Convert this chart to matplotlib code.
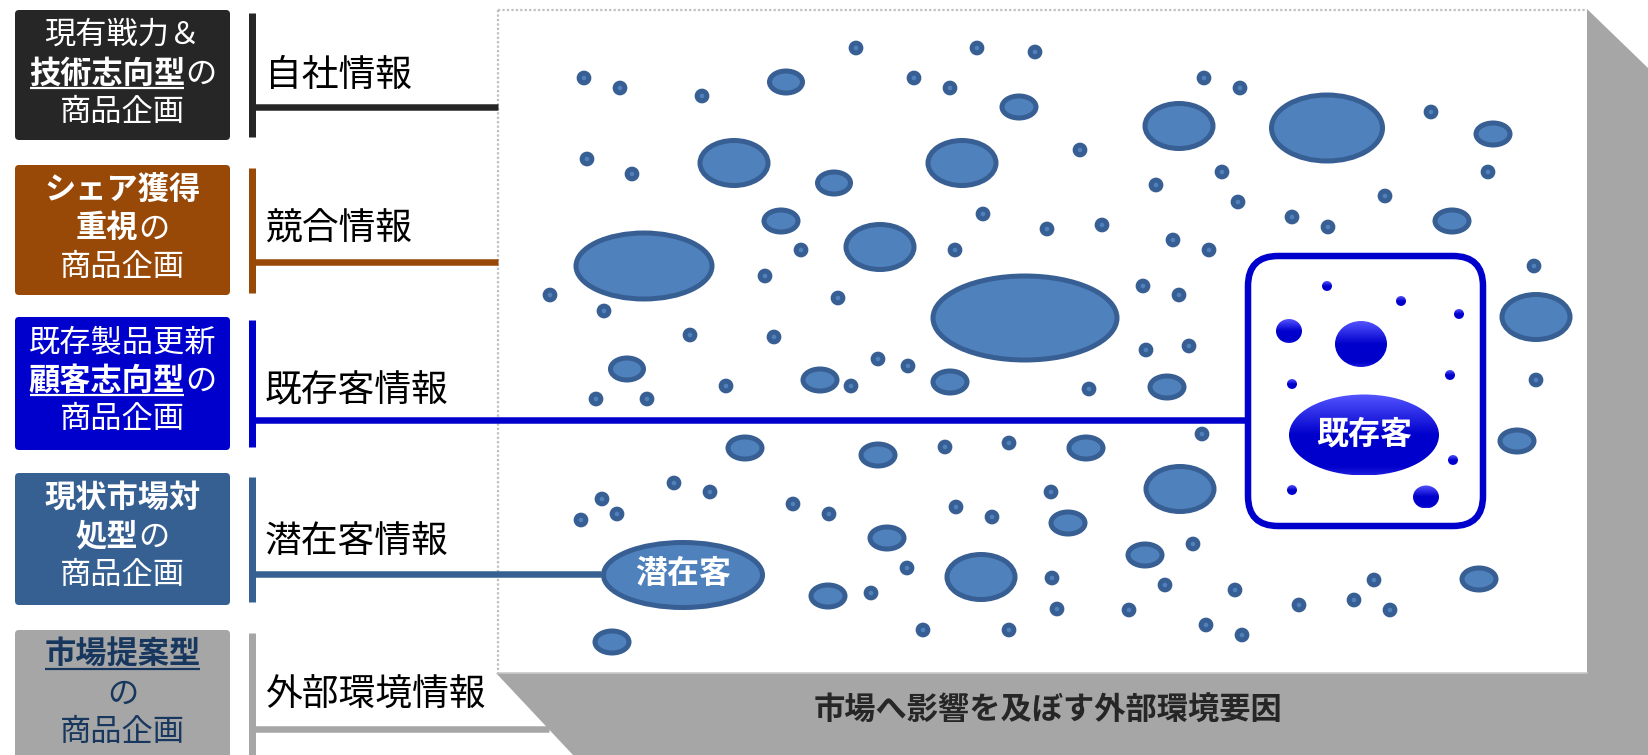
import matplotlib
matplotlib.use('Agg')
import matplotlib.pyplot as plt
from matplotlib.patches import Ellipse, FancyBboxPatch, Polygon
import numpy as np

plt.rcParams['font.family'] = ['Noto Sans CJK JP', 'DejaVu Sans']

# ---------------- data ----------------
box_colors = ['#262626', '#984807', '#0000CC', '#376092', '#A6A6A6']
box_text_colors = ['white', 'white', 'white', 'white', '#17375E']
box_top = [10, 165, 317, 473, 630]
box_bottom = [140, 295, 450, 605, 765]
box_lines = [
    [[('現有戦力＆', False, False)], [('技術志向型', True, True), ('の', False, False)], [('商品企画', False, False)]],
    [[('シェア獲得', True, False)], [('重視', True, False), ('の', False, False)], [('商品企画', False, False)]],
    [[('既存製品更新', False, False)], [('顧客志向型', True, True), ('の', False, False)], [('商品企画', False, False)]],
    [[('現状市場対', True, False)], [('処型', True, False), ('の', False, False)], [('商品企画', False, False)]],
    [[('市場提案型', True, True)], [('の', False, False)], [('商品企画', False, False)]],
]
line_offsets = [25, 63.5, 102]

info_labels = ['自社情報', '競合情報', '既存客情報', '潜在客情報', '外部環境情報']
info_label_y = [75, 229, 391, 541, 695]
bracket_y0 = [13, 168, 320, 477, 633]
bracket_y1 = [137, 293, 447, 602, 760]
link_y = [106.5, 262, 420, 574, 729]
link_x_end = [498, 498, 1245, 601, 549]

# small market dots (centres)
dot_x = [856, 977, 1035, 584, 620, 702, 914, 950, 1204, 1240, 1431, 587, 632, 1080,
         1222, 1156, 1488, 1238, 1385, 1292, 1328, 983, 1047, 1102, 801, 955, 1173,
         1209, 1534, 765, 550, 604, 838, 1143, 1179, 690, 774, 878, 908, 1146, 1189,
         1536, 596, 647, 726, 851, 1089, 945, 1009, 1202, 674, 710, 602, 617, 581,
         793, 829, 1051, 956, 992, 1193, 907, 1052, 1165, 871, 1057, 1129, 1206,
         923, 1009, 1235, 1299, 1354, 1374, 1390, 1242]
dot_y = [48, 48, 52, 78, 88, 96, 78, 88, 78, 88, 112, 159, 174, 150,
         172, 185, 172, 202, 196, 217, 227, 214, 229, 225, 250, 250, 240,
         250, 266, 276, 295, 311, 298, 286, 295, 335, 337, 359, 366, 350, 346,
         380, 399, 399, 386, 386, 389, 447, 443, 434, 483, 492, 499, 514, 520,
         504, 514, 492, 507, 517, 544, 568, 578, 585, 593, 609, 610, 625,
         630, 630, 590, 605, 600, 580, 610, 635]

# market ellipses: centre and outer size
ell_x = [786, 734, 834, 781, 644, 880, 1019, 962, 1179, 1025, 1327, 1493, 1452, 1536,
         627, 820, 745, 828, 612, 878, 950, 1167, 1086, 1180, 1068, 887, 1145, 981,
         1517, 1479]
ell_y = [82, 163, 183, 221, 266, 247, 107, 163, 126, 318, 128, 134, 221, 317,
         369, 380, 448, 596, 642, 455, 382, 387, 448, 489, 523, 538, 555, 577,
         441, 579]
ell_w = [38, 73, 38, 39, 141, 73, 39, 73, 73, 189, 116, 39, 39, 73,
         38, 39, 39, 39, 39, 39, 39, 39, 39, 73, 39, 39, 39, 73,
         39, 39]
ell_h = [27, 50, 27, 27, 71, 50, 27, 50, 50, 89, 71, 27, 27, 50,
         27, 27, 27, 27, 27, 27, 27, 27, 27, 50, 27, 27, 27, 50,
         27, 27]

# existing-customer spheres inside the box
sph_x = [1327, 1401, 1459, 1292, 1450, 1453, 1292, 1289, 1361, 1426]
sph_y = [286, 301, 314, 384, 375, 460, 490, 331, 344, 497]
sph_w = [10, 10, 10, 10, 10, 10, 10, 26, 52, 26]
sph_h = [10, 10, 10, 10, 10, 10, 10, 24, 46, 23]

customer_box = (1248, 256, 1483, 526)
existing_ell = (1364, 435, 150, 81, '既存客')
latent_ell = (683, 575, 164, 70, '潜在客')
bottom_title = '市場へ影響を及ぼす外部環境要因'

# ---------------- figure ----------------
W, H = 1648, 755
fig = plt.figure(figsize=(W / 100, H / 100), dpi=100)
ax = fig.add_axes([0, 0, 1, 1])
ax.set_xlim(0, W)
ax.set_ylim(H, 0)
ax.axis('off')
PT = 0.72  # points per pixel

FILL = '#4F81BD'
EDGE = '#385F93'

# grey 3D frame
ax.add_patch(Polygon([(1587, 9), (1648, 68), (1648, 755), (573, 755), (496, 673), (1587, 673)],
                     closed=True, facecolor='#A6A6A6', edgecolor='none', zorder=1))
# dotted borders
ax.plot([498, 1587], [9.5, 9.5], color='#BFBFBF', lw=1.6, ls=(0, (1, 1)), zorder=2)
ax.plot([498, 498], [9.5, 673], color='#BFBFBF', lw=1.6, ls=(0, (1, 1)), zorder=2)
ax.plot([498, 1587], [673, 673], color='#C8C8C8', lw=1.2, zorder=2)

ax.text(1048, 711, bottom_title, ha='center', va='center', fontsize=22.5,
        fontweight='bold', color='#262626', zorder=3)

# market ellipses and dots
for x, y, w, h in zip(ell_x, ell_y, ell_w, ell_h):
    ax.add_patch(Ellipse((x, y), w - 5, h - 5, facecolor=FILL, edgecolor=EDGE,
                         lw=5 * PT, zorder=4))
for x, y in zip(dot_x, dot_y):
    ax.add_patch(Ellipse((x, y), 9.7, 9.7, facecolor=FILL, edgecolor=EDGE,
                         lw=5 * PT, zorder=4))

# left boxes
renderer = fig.canvas.get_renderer()
for i in range(5):
    x0, x1 = 15, 230
    ax.add_patch(FancyBboxPatch((x0, box_top[i]), x1 - x0, box_bottom[i] - box_top[i],
                                boxstyle='round,pad=0,rounding_size=4',
                                facecolor=box_colors[i], edgecolor='none', zorder=3))
    tc = box_text_colors[i]
    for j, pieces in enumerate(box_lines[i]):
        y = box_top[i] + line_offsets[j]
        objs = []
        total = 0
        for (s, bold, ul) in pieces:
            t = ax.text(0, y, s, ha='left', va='center', fontsize=22.5, color=tc,
                        fontweight='bold' if bold else 'normal', zorder=5)
            wpx = t.get_window_extent(renderer).width
            objs.append((t, wpx, ul))
            total += wpx
        cx = (x0 + x1) / 2
        xs = cx - total / 2
        for t, wpx, ul in objs:
            t.set_x(xs)
            if ul:
                ax.plot([xs + 1, xs + wpx - 1], [y + 14, y + 14], color=tc, lw=2.2 * PT,
                        solid_capstyle='butt', zorder=5)
            xs += wpx

# brackets and links
for i in range(5):
    c = box_colors[i]
    ax.plot([252.5, 252.5], [bracket_y0[i], bracket_y1[i]], color=c, lw=7 * PT,
            solid_capstyle='butt', zorder=6)
    ax.plot([252.5, link_x_end[i]], [link_y[i], link_y[i]], color=c, lw=6.5 * PT,
            solid_capstyle='butt', zorder=6)
    ax.text(265, info_label_y[i], info_labels[i], ha='left', va='center',
            fontsize=26.5, color='black', zorder=6)

# existing-customer box
bx0, by0, bx1, by1 = customer_box
ax.add_patch(FancyBboxPatch((bx0, by0), bx1 - bx0, by1 - by0,
                            boxstyle='round,pad=0,rounding_size=30',
                            facecolor='white', edgecolor='#0000CC', lw=6.5 * PT, zorder=7))

grad_rows = np.linspace(0, 1, 128)
top_c = np.array([0.33, 0.33, 1.0])
mid_c = np.array([0.0, 0.0, 0.80])
grad = np.zeros((128, 1, 3))
for k, v in enumerate(grad_rows):
    f = min(v / 0.5, 1.0)
    col = top_c * (1 - f) + mid_c * f
    if v > 0.9:
        g = (v - 0.9) / 0.1 * 0.35
        col = col * (1 - g) + top_c * g
    grad[k, 0] = col


def sphere(cx, cy, w, h, z):
    e = Ellipse((cx, cy), w, h, facecolor='none', edgecolor='none', zorder=z)
    ax.add_patch(e)
    im = ax.imshow(grad, extent=(cx - w / 2, cx + w / 2, cy + h / 2, cy - h / 2),
                   origin='upper', aspect='auto', interpolation='bilinear', zorder=z)
    im.set_clip_path(e)


for x, y, w, h in zip(sph_x, sph_y, sph_w, sph_h):
    sphere(x, y, w, h, 8)

ex, ey, ew, eh, et = existing_ell
sphere(ex, ey, ew, eh, 8)
ax.text(ex, ey - 1, et, ha='center', va='center', fontsize=23, fontweight='bold',
        color='white', zorder=9)

lx, ly, lw_, lh, lt = latent_ell
ax.add_patch(Ellipse((lx, ly), lw_ - 5, lh - 5, facecolor=FILL, edgecolor=EDGE,
                     lw=5 * PT, zorder=7))
ax.text(lx, ly - 1, lt, ha='center', va='center', fontsize=23, fontweight='bold',
        color='white', zorder=9)

ax.set_xlim(0, W)
ax.set_ylim(H, 0)
fig.savefig('out.png', dpi=100)
